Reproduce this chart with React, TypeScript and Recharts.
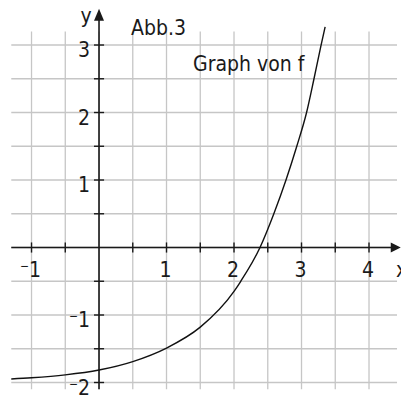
import React from "react";
import { ComposedChart, XAxis, YAxis, Line, Scatter, ReferenceLine } from "recharts";

// ---------------------------------------------------------------------------
// Data (Abb.3, graph of f)
// ---------------------------------------------------------------------------

const CURVE_X = [-1.3, -1, -0.5, 0, 0.5, 1, 1.5, 2, 2.1, 2.385, 2.59, 2.77, 2.93, 3.075, 3.185, 3.29, 3.35];
const CURVE_Y = [-1.948, -1.93, -1.887, -1.815, -1.69, -1.49, -1.18, -0.65, -0.5, 0, 0.5, 1, 1.5, 2, 2.5, 3, 3.27];

const X_TICK_VALUES = [-1, 1, 2, 3, 4];
const X_TICK_LABELS = ["−1", "1", "2", "3", "4"];
const Y_TICK_VALUES = [3, 2, 1, -1, -2];
const Y_TICK_LABELS = ["3", "2", "1", "−1", "−2"];

// half-unit grid and axis tick marks
const GRID_X = [-1, -0.5, 0, 0.5, 1, 1.5, 2, 2.5, 3, 3.5, 4];
const GRID_Y = [-2, -1.5, -1, -0.5, 0, 0.5, 1, 1.5, 2, 2.5, 3];
const GRID_X_EXTENT = [-1.3, 4.415];
const GRID_Y_EXTENT = [-2.1, 3.2];

const ANNOTATIONS = [
  { x: 0.474, y: 3.148, label: "Abb.3", anchor: "start" },
  { x: 1.393, y: 2.615, label: "Graph von f", anchor: "start" },
  { x: -0.19, y: 3.326, label: "y", anchor: "middle" },
  { x: 4.4, y: -0.437, label: "x", anchor: "start" },
];

const X_DOMAIN = [-1.467, 4.474];
const Y_DOMAIN = [-2.2, 3.667];

const curveData = CURVE_X.map((x, i) => ({ x, y: CURVE_Y[i] }));
const xTickData = X_TICK_VALUES.map((x, i) => ({ x, y: 0, label: X_TICK_LABELS[i] }));
const yTickData = Y_TICK_VALUES.map((y, i) => ({ x: 0, y, label: Y_TICK_LABELS[i] }));

const FONT = '"DejaVu Sans Condensed", "DejaVu Sans", sans-serif';
const FONT_SIZE = 21;
const INK = "#1a1a1a";
const GRID = "#c6c6c6";

// renders "−1" with the short raised minus of the textbook style
function tickText(label: string) {
  if (label.startsWith("−")) {
    return (
      <>
        <tspan fontSize={12} dy={-7}>−</tspan>
        <tspan dy={7}>{label.slice(1)}</tspan>
      </>
    );
  }
  return label;
}

function XTickLabel(props: any) {
  const { cx, cy, payload } = props;
  return (
    <text x={cx - 1} y={cy + 29} textAnchor="middle" fontFamily={FONT} fontSize={FONT_SIZE} fill={INK}>
      {tickText(payload.label)}
    </text>
  );
}

function YTickLabel(props: any) {
  const { cx, cy, payload } = props;
  return (
    <text x={cx - 9} y={cy + 12} textAnchor="end" fontFamily={FONT} fontSize={FONT_SIZE} fill={INK}>
      {tickText(payload.label)}
    </text>
  );
}

function Annotation(props: any) {
  const { cx, cy, payload } = props;
  return (
    <text x={cx} y={cy} textAnchor={payload.anchor} fontFamily={FONT} fontSize={FONT_SIZE} fill={INK}>
      {payload.label}
    </text>
  );
}

function ArrowUp(props: any) {
  const { cx, cy } = props;
  return <polygon points={`${cx},${cy} ${cx - 5},${cy + 12} ${cx + 5},${cy + 12}`} fill={INK} />;
}

function ArrowRight(props: any) {
  const { cx, cy } = props;
  return <polygon points={`${cx},${cy} ${cx - 10},${cy - 5} ${cx - 10},${cy + 5}`} fill={INK} />;
}

export default function App() {
  return (
    <div style={{ position: "absolute", left: 0, top: 0, width: 401, height: 396, background: "#fff" }}>
      <ComposedChart width={401} height={396} margin={{ top: 0, right: 0, bottom: 0, left: 0 }}>
        <XAxis type="number" dataKey="x" domain={X_DOMAIN} allowDataOverflow hide />
        <YAxis type="number" dataKey="y" domain={Y_DOMAIN} allowDataOverflow hide />

        {/* grid */}
        {GRID_Y.map((v) => (
          <ReferenceLine
            key={`gy${v}`}
            segment={[{ x: GRID_X_EXTENT[0], y: v }, { x: GRID_X_EXTENT[1], y: v }]}
            stroke={GRID}
            strokeWidth={1.3}
          />
        ))}
        {GRID_X.map((v) => (
          <ReferenceLine
            key={`gx${v}`}
            segment={[{ x: v, y: GRID_Y_EXTENT[0] }, { x: v, y: GRID_Y_EXTENT[1] }]}
            stroke={GRID}
            strokeWidth={1.3}
          />
        ))}

        {/* axes */}
        <ReferenceLine
          segment={[{ x: GRID_X_EXTENT[0], y: 0 }, { x: 4.33, y: 0 }]}
          stroke={INK}
          strokeWidth={1.6}
        />
        <ReferenceLine
          segment={[{ x: 0, y: GRID_Y_EXTENT[0] }, { x: 0, y: 3.4 }]}
          stroke={INK}
          strokeWidth={1.6}
        />
        {GRID_X.filter((v) => v !== 0).map((v) => (
          <ReferenceLine
            key={`tx${v}`}
            segment={[{ x: v, y: -0.075 }, { x: v, y: 0.075 }]}
            stroke={INK}
            strokeWidth={1.4}
          />
        ))}
        {GRID_Y.filter((v) => v !== 0).map((v) => (
          <ReferenceLine
            key={`ty${v}`}
            segment={[{ x: -0.075, y: v }, { x: 0.075, y: v }]}
            stroke={INK}
            strokeWidth={1.4}
          />
        ))}

        <Line
          data={curveData}
          dataKey="y"
          type="monotone"
          stroke="#111"
          strokeWidth={1.4}
          dot={false}
          activeDot={false}
          isAnimationActive={false}
        />

        <Scatter data={[{ x: 0, y: 3.536 }]} shape={ArrowUp} isAnimationActive={false} />
        <Scatter data={[{ x: 4.47, y: 0 }]} shape={ArrowRight} isAnimationActive={false} />
        <Scatter data={xTickData} shape={XTickLabel} isAnimationActive={false} />
        <Scatter data={yTickData} shape={YTickLabel} isAnimationActive={false} />
        <Scatter data={ANNOTATIONS} shape={Annotation} isAnimationActive={false} />
      </ComposedChart>
    </div>
  );
}
